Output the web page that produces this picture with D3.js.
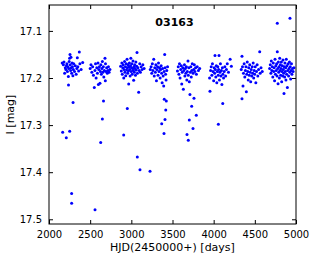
<!DOCTYPE html>
<html>
<head>
<meta charset="utf-8">
<script src="https://cdn.jsdelivr.net/npm/d3@7"></script>
<style>
  body { margin: 0; background: #fff; }
  text { font-family: "DejaVu Sans", sans-serif; fill: #000; }
</style>
</head>
<body>
<div id="chart"></div>
<script>
// I-band photometry of star 03163, one array of [HJD-2450000, I mag] per observing season
var season1 = [[2160,17.168],[2175,17.172],[2182,17.166],[2190,17.190],[2198,17.178],[2205,17.182],[2212,17.174],[2218,17.170],[2224,17.186],[2230,17.176],[2235,17.197],[2237,17.215],[2240,17.180],[2245,17.165],[2250,17.158],[2255,17.150],[2258,17.172],[2262,17.184],[2267,17.156],[2270,17.178],[2275,17.190],[2280,17.168],[2285,17.176],[2290,17.195],[2295,17.182],[2300,17.170],[2310,17.186],[2320,17.174],[2330,17.192],[2338,17.180],[2344,17.157],[2350,17.176],[2360,17.185],[2368,17.145],[2375,17.170],[2390,17.182],[2409,17.167],
  [2292,17.252],[2166,17.315],[2251,17.313],[2210,17.327],[2275,17.445],[2275,17.466]];
var season2 = [[2500,17.180],[2510,17.172],[2520,17.188],[2530,17.176],[2540,17.194],[2550,17.220],[2558,17.184],[2565,17.170],[2572,17.200],[2580,17.178],[2588,17.190],[2595,17.168],[2600,17.214],[2605,17.182],[2612,17.176],[2619,17.211],[2625,17.186],[2630,17.172],[2636,17.192],[2642,17.180],[2648,17.165],[2655,17.188],[2660,17.176],[2666,17.198],[2672,17.184],[2680,17.158],[2684,17.206],[2686,17.170],[2692,17.186],[2700,17.178],[2708,17.190],[2715,17.184],[2722,17.176],[2730,17.188],[2740,17.182],
  [2662,17.249],[2648,17.287],[2628,17.337],[2559,17.480]];
var season3 = [[2870,17.175],[2878,17.185],[2885,17.168],[2890,17.192],[2896,17.178],[2902,17.172],[2908,17.200],[2912,17.182],[2918,17.165],[2922,17.188],[2928,17.176],[2932,17.195],[2938,17.170],[2942,17.183],[2948,17.160],[2952,17.178],[2956,17.190],[2960,17.172],[2965,17.185],[2968,17.213],[2972,17.176],[2976,17.168],[2980,17.182],[2985,17.196],[2990,17.174],[2994,17.158],[2998,17.186],[3002,17.178],[3006,17.170],[3010,17.192],[3015,17.180],[3020,17.164],[3024,17.184],[3028,17.205],[3032,17.176],[3036,17.188],[3040,17.172],[3045,17.180],[3050,17.194],[3055,17.166],[3060,17.183],[3065,17.175],[3069,17.146],[3074,17.190],[3080,17.178],[3089,17.230],[3095,17.184],[3102,17.170],[3110,17.188],[3120,17.176],[3130,17.182],[3140,17.172],[3155,17.180],
  [2951,17.265],[2907,17.321],[3073,17.368],[3105,17.395],[3227,17.398]];
var season4 = [[3230,17.182],[3240,17.176],[3248,17.190],[3255,17.170],[3262,17.184],[3272,17.160],[3278,17.196],[3285,17.178],[3292,17.188],[3298,17.172],[3305,17.206],[3310,17.182],[3318,17.176],[3324,17.194],[3330,17.168],[3336,17.186],[3342,17.178],[3350,17.200],[3356,17.182],[3362,17.174],[3368,17.190],[3374,17.210],[3380,17.180],[3386,17.196],[3393,17.217],[3398,17.186],[3405,17.150],[3410,17.178],[3416,17.192],[3422,17.204],[3430,17.184],[3440,17.176],
  [3400,17.245],[3425,17.249],[3418,17.268],[3409,17.288],[3369,17.297],[3397,17.318]];
var season5 = [[3560,17.185],[3570,17.176],[3578,17.192],[3585,17.170],[3592,17.200],[3600,17.182],[3607,17.174],[3612,17.213],[3618,17.188],[3625,17.178],[3632,17.224],[3638,17.184],[3645,17.172],[3650,17.196],[3656,17.180],[3662,17.190],[3668,17.176],[3674,17.204],[3680,17.186],[3688,17.164],[3692,17.194],[3698,17.178],[3704,17.208],[3712,17.235],[3716,17.188],[3722,17.176],[3728,17.198],[3734,17.184],[3740,17.170],[3750,17.190],[3758,17.182],[3765,17.172],[3772,17.186],[3780,17.178],[3790,17.192],[3800,17.176],[3815,17.184],[3830,17.180],
  [3761,17.243],[3733,17.260],[3789,17.279],[3704,17.289],[3749,17.307],[3676,17.320],[3692,17.332]];
var season6 = [[3950,17.200],[3955,17.228],[3962,17.184],[3970,17.176],[3978,17.194],[3985,17.170],[3992,17.186],[4000,17.206],[4006,17.178],[4012,17.190],[4016,17.152],[4020,17.182],[4026,17.198],[4032,17.174],[4038,17.210],[4044,17.186],[4050,17.176],[4056,17.194],[4060,17.182],[4065,17.152],[4070,17.204],[4076,17.188],[4082,17.170],[4088,17.196],[4094,17.184],[4100,17.214],[4106,17.178],[4112,17.192],[4120,17.200],[4128,17.186],[4136,17.176],[4145,17.196],[4155,17.182],[4165,17.170],[4180,17.188],[4200,17.160],[4215,17.175],
  [4110,17.254],[4057,17.298]];
var season7 = [[4335,17.182],[4344,17.154],[4344,17.244],[4350,17.176],[4356,17.217],[4362,17.190],[4370,17.170],[4378,17.198],[4385,17.184],[4392,17.176],[4397,17.229],[4402,17.192],[4408,17.166],[4414,17.186],[4420,17.204],[4426,17.178],[4432,17.194],[4438,17.172],[4444,17.188],[4450,17.208],[4456,17.182],[4462,17.196],[4468,17.176],[4474,17.190],[4480,17.168],[4486,17.200],[4492,17.184],[4498,17.192],[4505,17.176],[4512,17.210],[4520,17.186],[4528,17.172],[4536,17.196],[4545,17.182],[4559,17.144],[4565,17.190],[4575,17.178],[4590,17.186]];
var season8 = [[4680,17.180],[4688,17.172],[4695,17.190],[4700,17.164],[4706,17.184],[4712,17.176],[4718,17.198],[4724,17.168],[4730,17.186],[4735,17.178],[4740,17.206],[4745,17.160],[4750,17.192],[4755,17.174],[4760,17.184],[4765,17.170],[4770,17.196],[4773,17.144],[4778,17.180],[4782,17.212],[4786,17.166],[4790,17.188],[4794,17.176],[4798,17.200],[4802,17.158],[4806,17.184],[4810,17.172],[4814,17.194],[4818,17.180],[4822,17.166],[4826,17.208],[4830,17.186],[4834,17.174],[4838,17.196],[4842,17.162],[4846,17.182],[4850,17.190],[4854,17.233],[4858,17.176],[4862,17.198],[4866,17.168],[4870,17.186],[4874,17.178],[4878,17.204],[4882,17.160],[4886,17.192],[4890,17.174],[4895,17.220],[4900,17.184],[4905,17.170],[4910,17.196],[4915,17.180],[4920,17.166],[4925,17.188],[4930,17.176],[4935,17.202],[4940,17.184],[4945,17.170],[4950,17.192],[4958,17.180],[4965,17.186],[4975,17.178],
  [4773,17.084],[4927,17.073]];

var xTicks = [2000, 2500, 3000, 3500, 4000, 4500, 5000];
var yTicks = [17.1, 17.2, 17.3, 17.4, 17.5];
var starName = '03163';

var allPoints = [].concat(season1, season2, season3, season4, season5, season6, season7, season8);

var width = 316, height = 259;
const margin = { top: 5, left: 49, bottom: 35, right: 20 };
var w = width - margin.left - margin.right;
var h = height - margin.top - margin.bottom;

var svg = d3.select('#chart').append('svg')
    .attr('width', width)
    .attr('height', height);

var g = svg.append('g').attr('transform', 'translate(' + margin.left + ',' + margin.top + ')');

let x = d3.scaleLinear().domain([2000, 5000]).range([0, w]);
let y = d3.scaleLinear().domain([17.045, 17.51]).range([0, h]); // magnitudes: brighter at top

// points
g.selectAll('circle')
    .data(allPoints)
    .enter().append('circle')
        .attr('cx', function(d){ return x(d[0]) })
        .attr('cy', function(d){ return y(d[1]) })
        .attr('r', 1.5)
        .attr('fill', '#0000ff');

// ticks inward on all four sides, labels bottom/left only
var tickLen = 4;
g.append('g').attr('class', 'axis x')
    .attr('transform', 'translate(0,' + h + ')')
    .call(d3.axisBottom(x).tickValues(xTicks).tickFormat(d3.format('d')).tickSizeInner(-tickLen).tickSizeOuter(0).tickPadding(7));
g.append('g').attr('class', 'axis x2')
    .call(d3.axisTop(x).tickValues(xTicks).tickFormat('').tickSizeInner(-tickLen).tickSizeOuter(0));
g.append('g').attr('class', 'axis y')
    .call(d3.axisLeft(y).tickValues(yTicks).tickFormat(d3.format('.1f')).tickSizeInner(-tickLen).tickSizeOuter(0).tickPadding(7));
g.append('g').attr('class', 'axis y2')
    .attr('transform', 'translate(' + w + ',0)')
    .call(d3.axisRight(y).tickValues(yTicks).tickFormat('').tickSizeInner(-tickLen).tickSizeOuter(0));

g.selectAll('.axis .domain').remove();
g.selectAll('.axis text').style('font-size', '10px').style('font-family', '"DejaVu Sans", sans-serif');
g.selectAll('.axis line').attr('stroke', '#000');

g.append('rect')
    .attr('width', w).attr('height', h)
    .attr('fill', 'none').attr('stroke', '#000').attr('stroke-width', 1);

// title inside the axes
g.append('text')
    .attr('x', w / 2 + 2)
    .attr('y', 21)
    .attr('text-anchor', 'middle')
    .style('font-size', '11px')
    .style('font-weight', 'bold')
    .text(starName);

svg.append('text')
    .attr('x', margin.left + w / 2)
    .attr('y', 251)
    .attr('text-anchor', 'middle')
    .style('font-size', '11px')
    .text('HJD(2450000+) [days]');

svg.append('text')
    .attr('transform', 'translate(14,' + (margin.top + h / 2) + ') rotate(-90)')
    .attr('text-anchor', 'middle')
    .style('font-size', '11px')
    .text('I [mag]');
</script>
</body>
</html>
